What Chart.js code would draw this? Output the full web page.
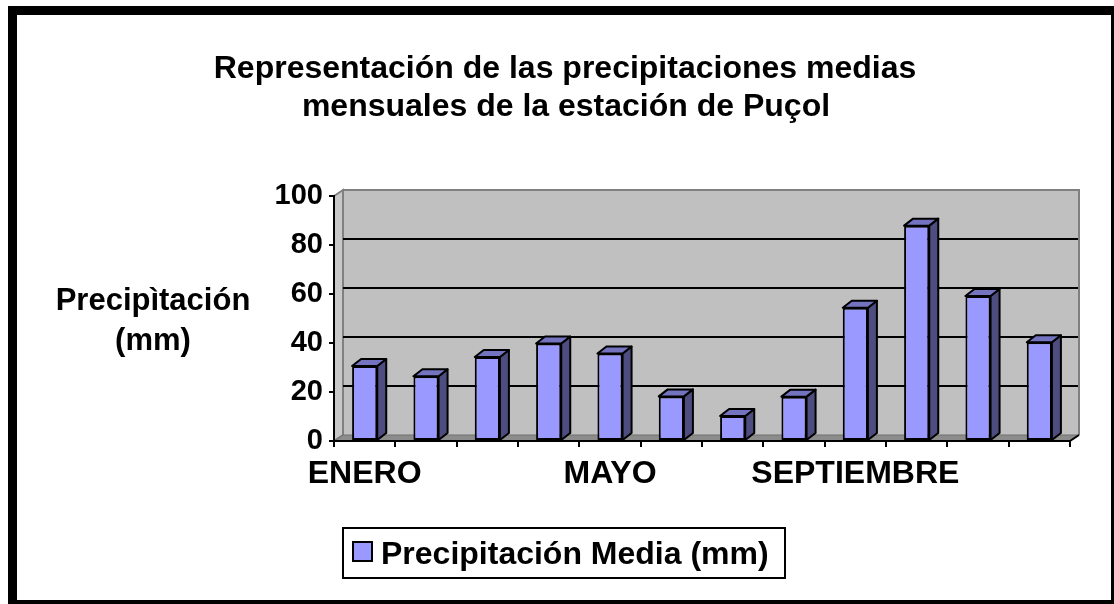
<!DOCTYPE html>
<html>
<head>
<meta charset="utf-8">
<script src="https://cdn.jsdelivr.net/npm/chart.js@4/dist/chart.umd.min.js"></script>
<style>
  body { margin: 0; overflow: hidden; background: #fff; }
  #wrap { position: relative; width: 1114px; height: 604px; }
  #myChart { position: absolute; left: 0; top: 0; }
  #frame { position: absolute; left: 8px; top: 6px; width: 1112px; height: 603px;
           box-sizing: border-box; border: 9px solid #000; pointer-events: none; }
</style>
</head>
<body>
<div id="wrap">
  <canvas id="myChart" width="1114" height="604"></canvas>
  <div id="frame"></div>
</div>
<script>
var meses = ["ENERO","FEBRERO","MARZO","ABRIL","MAYO","JUNIO","JULIO","AGOSTO","SEPTIEMBRE","OCTUBRE","NOVIEMBRE","DICIEMBRE"];
var precipitacion = [30.6, 26.4, 34.3, 39.8, 35.7, 18.2, 10.2, 18.1, 54.4, 87.9, 59.2, 40.3];
var yTicks = [0, 20, 40, 60, 80, 100];
var titulo = ["Representación de las precipitaciones medias", "mensuales de la estación de Puçol"];
var tituloEje = ["Precipìtación", "(mm)"];
var serie = "Precipitación Media (mm)";

var FONT = '"Liberation Sans", Arial, sans-serif';
var DX = 9, DY = -6;       // profundidad del efecto 3D
var BAR_DX = 9, BAR_DY = -7;

// pared del fondo, suelo y lineas de division
var fondo3D = {
  id: "fondo3D",
  beforeDraw: function(chart) {
    var ctx = chart.ctx, a = chart.chartArea, y = chart.scales.y;
    ctx.save();
    // pared izquierda
    ctx.fillStyle = "#c8c8c8";
    ctx.beginPath();
    ctx.moveTo(a.left, a.top); ctx.lineTo(a.left + DX, a.top + DY);
    ctx.lineTo(a.left + DX, a.bottom + DY); ctx.lineTo(a.left, a.bottom);
    ctx.closePath(); ctx.fill();
    ctx.strokeStyle = "#808080"; ctx.lineWidth = 2; ctx.stroke();
    // pared del fondo
    ctx.fillStyle = "#c0c0c0";
    ctx.fillRect(a.left + DX, a.top + DY, a.right - a.left, a.bottom - a.top);
    ctx.strokeStyle = "#808080"; ctx.lineWidth = 2;
    ctx.beginPath();
    ctx.moveTo(a.left + DX, a.bottom + DY); ctx.lineTo(a.left + DX, a.top + DY);
    ctx.lineTo(a.right + DX, a.top + DY); ctx.lineTo(a.right + DX, a.bottom + DY);
    ctx.stroke();
    // lineas de division
    ctx.strokeStyle = "#000"; ctx.lineWidth = 2;
    yTicks.forEach(function(v) {
      if (v === 0 || v === 100) return;
      var py = Math.round(y.getPixelForValue(v) + DY);
      ctx.beginPath();
      ctx.moveTo(a.left + DX, py); ctx.lineTo(a.right + DX - 1, py);
      ctx.stroke();
    });
    // suelo
    ctx.fillStyle = "#8c8c8c";
    ctx.beginPath();
    ctx.moveTo(a.left, a.bottom); ctx.lineTo(a.left + DX, a.bottom + DY);
    ctx.lineTo(a.right + DX, a.bottom + DY); ctx.lineTo(a.right, a.bottom);
    ctx.closePath(); ctx.fill();
    ctx.strokeStyle = "#707070"; ctx.lineWidth = 1; ctx.stroke();
    ctx.strokeStyle = "#000"; ctx.lineWidth = 2;
    ctx.beginPath();
    ctx.moveTo(a.right, a.bottom); ctx.lineTo(a.right + DX, a.bottom + DY);
    ctx.stroke();
    ctx.restore();
  }
};

// caras lateral y superior de cada columna
var columnas3D = {
  id: "columnas3D",
  afterDatasetsDraw: function(chart) {
    var ctx = chart.ctx;
    ctx.save();
    ctx.lineWidth = 2; ctx.strokeStyle = "#000"; ctx.lineJoin = "round";
    chart.getDatasetMeta(0).data.forEach(function(bar) {
      var l = bar.x - bar.width / 2, r = bar.x + bar.width / 2, t = bar.y, b = bar.base;
      ctx.fillStyle = "#4d4d80";
      ctx.beginPath();
      ctx.moveTo(r, t); ctx.lineTo(r + BAR_DX, t + BAR_DY);
      ctx.lineTo(r + BAR_DX, b + BAR_DY); ctx.lineTo(r, b);
      ctx.closePath(); ctx.fill(); ctx.stroke();
      ctx.fillStyle = "#7373c0";
      ctx.beginPath();
      ctx.moveTo(l, t); ctx.lineTo(l + BAR_DX, t + BAR_DY);
      ctx.lineTo(r + BAR_DX, t + BAR_DY); ctx.lineTo(r, t);
      ctx.closePath(); ctx.fill(); ctx.stroke();
    });
    ctx.restore();
  }
};

// titulo, titulo del eje y leyenda
var textos = {
  id: "textos",
  afterDraw: function(chart) {
    var ctx = chart.ctx;
    ctx.save();
    ctx.fillStyle = "#000";
    ctx.textAlign = "center"; ctx.textBaseline = "alphabetic";
    ctx.font = "bold 32px " + FONT;
    ctx.fillText(titulo[0], 565, 78);
    ctx.fillText(titulo[1], 566, 116);
    ctx.font = "bold 31px " + FONT;
    ctx.fillText(tituloEje[0], 153, 310);
    ctx.fillText(tituloEje[1], 153, 350);
    // leyenda
    ctx.lineWidth = 2; ctx.strokeStyle = "#000";
    ctx.strokeRect(343, 528, 442, 50);
    ctx.fillStyle = "#9999ff";
    ctx.fillRect(353, 542, 19, 19);
    ctx.strokeRect(353, 542, 19, 19);
    ctx.fillStyle = "#000";
    ctx.textAlign = "left";
    ctx.font = "bold 32px " + FONT;
    ctx.fillText(serie, 381, 564);
    ctx.restore();
  }
};

var myChart = document.getElementById("myChart").getContext("2d");

var barChart = new Chart(myChart, {
  type: "bar",
  data: {
    labels: meses,
    datasets: [{
      label: serie,
      data: precipitacion,
      backgroundColor: "#9999ff",
      borderColor: "#000",
      borderWidth: 2,
      borderSkipped: false,
      barPercentage: 0.41,
      categoryPercentage: 1
    }]
  },
  options: {
    responsive: false,
    animation: false,
    devicePixelRatio: 1,
    layout: { padding: { top: 196, left: 0, right: 44, bottom: 103 } },
    plugins: {
      legend: { display: false },
      title: { display: false },
      tooltip: { enabled: false }
    },
    scales: {
      x: {
        afterFit: function(scale) { scale.height = 60; },
        grid: { display: true, drawOnChartArea: false, drawTicks: true, tickLength: 6, color: "#000", lineWidth: 2, offset: true },
        border: { display: true, color: "#000", width: 2 },
        ticks: {
          autoSkip: false, maxRotation: 0, padding: 8, color: "#000",
          font: { family: FONT, size: 32, weight: "bold" },
          callback: function(value, index) { return index % 4 === 0 ? meses[index] : ""; }
        }
      },
      y: {
        min: 0, max: 100,
        afterFit: function(scale) { scale.width = 334; },
        afterBuildTicks: function(scale) { scale.ticks = yTicks.map(function(v) { return { value: v }; }); },
        grid: { display: true, drawOnChartArea: false, drawTicks: true, tickLength: 5, color: "#000", lineWidth: 2 },
        border: { display: true, color: "#000", width: 2 },
        ticks: { padding: 6, color: "#000", font: { family: FONT, size: 29, weight: "bold" } }
      }
    }
  },
  plugins: [fondo3D, columnas3D, textos]
});
</script>
</body>
</html>
